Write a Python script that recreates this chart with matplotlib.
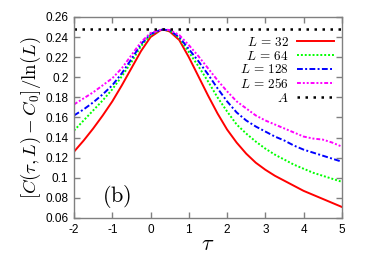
import numpy as np
import matplotlib
matplotlib.use("Agg")
import matplotlib.pyplot as plt
from matplotlib.ticker import FuncFormatter, MultipleLocator

plt.rcParams['mathtext.fontset'] = 'cm'
plt.rcParams['font.family'] = ['Liberation Sans', 'DejaVu Sans']
plt.rcParams['axes.unicode_minus'] = False

tau = [-2, -1.75, -1.5, -1.25, -1, -0.75, -0.5, -0.25, 0, 0.25, 0.33, 0.5, 0.75,
       1, 1.25, 1.5, 1.75, 2, 2.25, 2.5, 2.75, 3, 3.25, 3.5, 3.75, 4, 4.25, 4.5, 4.75, 5]
L32 = [0.126, 0.137, 0.149, 0.162, 0.176, 0.192, 0.209, 0.226, 0.240, 0.2465, 0.2475, 0.2455, 0.237,
       0.220, 0.201, 0.182, 0.164, 0.148, 0.135, 0.124, 0.115, 0.108, 0.102, 0.097, 0.092, 0.087, 0.083, 0.079, 0.075, 0.071]
L64 = [0.147, 0.157, 0.167, 0.177, 0.188, 0.201, 0.215, 0.231, 0.242, 0.247, 0.2475, 0.2462, 0.239,
       0.225, 0.211, 0.196, 0.180, 0.166, 0.153, 0.144, 0.136, 0.129, 0.123, 0.118, 0.113, 0.109, 0.105, 0.102, 0.099, 0.096]
L128 = [0.162, 0.168, 0.175, 0.183, 0.192, 0.204, 0.218, 0.233, 0.243, 0.247, 0.2475, 0.2465, 0.240,
        0.228, 0.216, 0.203, 0.189, 0.176, 0.165, 0.157, 0.151, 0.146, 0.141, 0.137, 0.132, 0.128, 0.125, 0.122, 0.119, 0.116]
L256 = [0.173, 0.179, 0.185, 0.192, 0.199, 0.209, 0.222, 0.235, 0.244, 0.247, 0.2475, 0.247, 0.242,
        0.232, 0.221, 0.209, 0.197, 0.186, 0.176, 0.169, 0.162, 0.157, 0.153, 0.149, 0.145, 0.141, 0.139, 0.138, 0.135, 0.131]
A = 0.2475

labels = [r'$L\,=\,32$', r'$L\,=\,64$', r'$L\,=\,128$', r'$L\,=\,256$', r'$A$']

fig = plt.figure(figsize=(3.74, 2.73), dpi=100)
ax = fig.add_axes([0.198, 0.2015, 0.716, 0.7365])

ax.plot(tau, L32, color='#ff0000', lw=1.4, ls='-', label=labels[0])
ax.plot(tau, L64, color='#00ff00', lw=1.4, ls=(0, (1, 1)), label=labels[1])
ax.plot(tau, L128, color='#0000ff', lw=1.4, ls=(0, (3, 1.2, 1, 1.2)), label=labels[2])
ax.plot(tau, L256, color='#ff00ff', lw=1.4, ls=(0, (2, 1, 1, 1, 1, 1)), label=labels[3])
ax.axhline(A, color='black', lw=1.8, ls=(0, (1, 2.2)), label=labels[4])

ax.set_xlim(-2, 5)
ax.set_ylim(0.06, 0.26)
ax.xaxis.set_major_locator(MultipleLocator(1))
ax.yaxis.set_major_locator(MultipleLocator(0.02))
ax.yaxis.set_major_formatter(FuncFormatter(lambda v, p: '%g' % round(v, 2)))
ax.xaxis.set_major_formatter(FuncFormatter(lambda v, p: '%g' % round(v, 2)))

for s in ax.spines.values():
    s.set_color('#808080')
    s.set_linewidth(1.0)
ax.tick_params(direction='in', length=4, width=1.0, color='#808080',
               top=True, right=True, labelsize=8.5, pad=4)

ax.set_xlabel(r'$\tau$', fontsize=16, labelpad=-1)
ax.set_ylabel(r'$[C(\tau,L)-C_0]/\ln(L)$', fontsize=13.5, labelpad=2)

ax.text(-0.88, 0.081, r'$\mathrm{(b)}$', fontsize=16, ha='center', va='center')

leg = ax.legend(loc='upper right', bbox_to_anchor=(0.97, 0.905), frameon=False,
                markerfirst=False, fontsize=9.5, handlelength=2.8, handletextpad=0.6,
                labelspacing=0.05, borderpad=0, borderaxespad=0)

fig.savefig('out.png', dpi=100)
